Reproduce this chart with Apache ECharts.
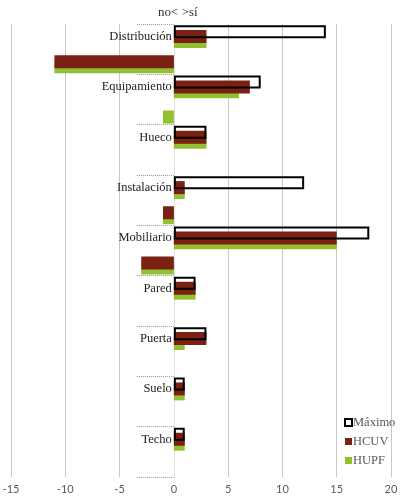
<!DOCTYPE html>
<html>
<head>
    <meta charset="utf-8">
    <title>no / sí</title>
    <script src="https://cdn.jsdelivr.net/npm/echarts@6/dist/echarts.min.js"></script>
    <style>
        body { margin: 0; background: #fff; }
    </style>
</head>
<body>
    <div id="main" style="width: 400px; height: 498px;"></div>

    <script>
        // categorías (de arriba abajo)
        var items = ['Distribución', 'Equipamiento', 'Hueco', 'Instalación', 'Mobiliario',
                     'Pared', 'Puerta', 'Suelo', 'Techo'];

        // respuestas "sí"
        var maximo = [14, 8, 3, 12, 18, 2, 3, 1, 1];
        var hcuvSi = [3, 7, 3, 1, 15, 2, 3, 1, 1];
        var hupfSi = [3, 6, 3, 1, 15, 2, 1, 1, 1];

        // respuestas "no"
        var hcuvNo = [-11, null, null, -1, -3, null, null, null, null];
        var hupfNo = [-11, -1, null, -1, -3, null, null, null, null];

        var xTicks = [-15, 20, 5];   // min, max, intervalo

        // cada categoría ocupa dos filas: sí arriba, no debajo
        var rows = [];
        var maxRows = [], hcuvRows = [], hupfRows = [];
        for (var i = 0; i < items.length; i++) {
            rows.push(items[i]);
            rows.push(items[i] + ' no');
            maxRows.push(maximo[i]);
            maxRows.push(null);
            hcuvRows.push(hcuvSi[i]);
            hcuvRows.push(hcuvNo[i]);
            hupfRows.push(hupfSi[i]);
            hupfRows.push(hupfNo[i]);
        }

        var serif = '"Liberation Serif", "DejaVu Serif", serif';
        var gridLeft = 11;

        var chartDom = document.getElementById('main');
        var myChart = echarts.init(chartDom);

        var option = {
            animation: false,
            title: {
                text: 'no< >sí',
                left: 153,
                top: 1,
                textStyle: { fontFamily: serif, fontSize: 13, fontWeight: 'normal', color: '#333' }
            },
            legend: {
                orient: 'vertical',
                left: 339,
                top: 411,
                itemWidth: 7,
                itemHeight: 7,
                itemGap: 6,
                icon: 'rect',
                data: ['Máximo', 'HCUV', 'HUPF'],
                textStyle: { fontFamily: serif, fontSize: 12.5, color: '#595959', padding: [0, 0, 0, -4] }
            },
            grid: { left: gridLeft, right: 9, top: 24, bottom: 21, containLabel: false, outerBoundsMode: 'none' },
            xAxis: {
                type: 'value',
                min: xTicks[0],
                max: xTicks[1],
                interval: xTicks[2],
                axisLine: { show: false },
                axisTick: { show: false },
                splitLine: { lineStyle: { color: '#c8c8c8', width: 1 } },
                axisLabel: { color: '#595959', fontFamily: 'Lato, sans-serif', fontSize: 11, margin: 7 }
            },
            yAxis: {
                type: 'category',
                inverse: true,
                data: rows,
                axisLine: { onZero: false, lineStyle: { color: '#e0e0e0', width: 1 } },
                axisTick: {
                    show: true,
                    interval: 1,
                    length: 37,
                    lineStyle: { color: '#9a9a9a', type: 'dotted', width: 1 }
                },
                axisLabel: {
                    interval: 1,
                    margin: 2,
                    color: '#222',
                    fontFamily: serif,
                    fontSize: 12.5
                }
            },
            series: [
                {
                    name: 'Máximo',
                    type: 'bar',
                    z: 4,
                    barWidth: 13,
                    barGap: '-62%',
                    data: maxRows,
                    itemStyle: { color: 'rgba(255,255,255,0)', borderColor: '#000', borderWidth: 2 }
                },
                {
                    name: 'HCUV',
                    type: 'bar',
                    z: 3,
                    barWidth: 13,
                    barGap: '-62%',
                    data: hcuvRows,
                    itemStyle: { color: '#7a2114' }
                },
                {
                    name: 'HUPF',
                    type: 'bar',
                    z: 2,
                    barWidth: 13,
                    barGap: '-62%',
                    data: hupfRows,
                    itemStyle: { color: '#92c02e' }
                }
            ]
        };

        myChart.setOption(option);

        // llevar el eje de categorías (con sus etiquetas) hasta x = 0
        var zeroX = myChart.convertToPixel({ xAxisIndex: 0 }, 0);
        myChart.setOption({ yAxis: { offset: -(zeroX - gridLeft) } });
    </script>
</body>
</html>
